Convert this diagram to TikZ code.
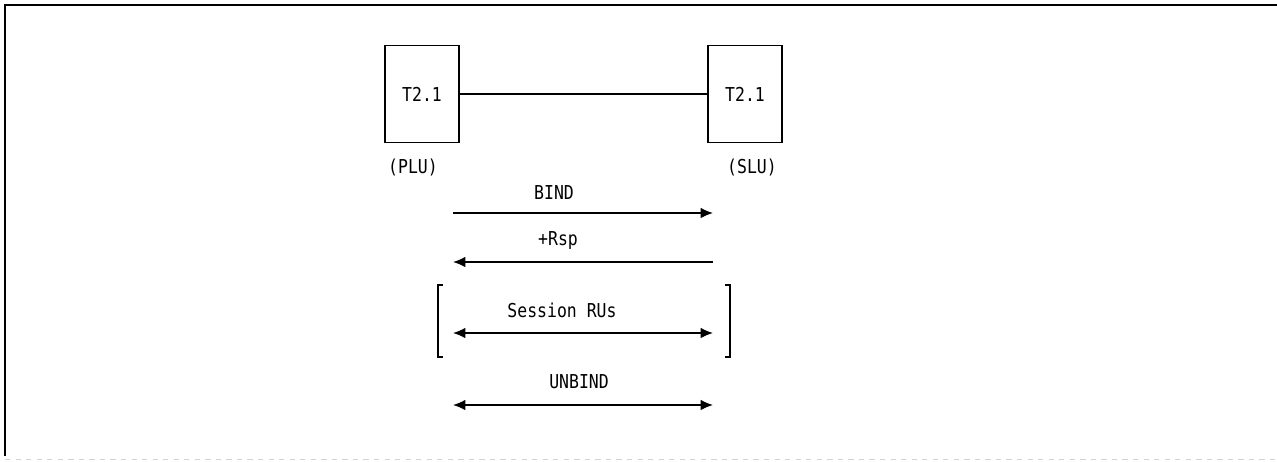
\documentclass[tikz,border=0pt]{standalone}
\usepackage{fontspec}
\newfontfamily\ibmfont[FakeStretch=0.86]{DejaVu Sans Mono}
\usepackage{tikz}
\usetikzlibrary{arrows.meta}

\begin{document}
\begin{tikzpicture}[x=0.02cm,y=-0.02cm,line width=0.75pt,
  every node/.style={font=\ibmfont\fontsize{10.9}{12}\selectfont},
  lubox/.style={draw,minimum width=1.48cm,minimum height=1.94cm,inner sep=0pt},
  msg/.style={-{Latex[length=7pt,width=6pt]}},
  msgboth/.style={{Latex[length=7pt,width=6pt]}-{Latex[length=7pt,width=6pt]}}]
\useasboundingbox (0,0) rectangle (1277,461);
\draw[line width=1.1pt] (1277,5) -- (5,5) -- (5,456);
\draw[gray!35,dashed,line width=0.5pt] (5,459) -- (1277,459);
% the two T2.1 nodes
\node[lubox] (plu) at (422,94) {T2.1};
\node[lubox] (slu) at (745,94) {T2.1};
\draw (plu) -- (slu);
\node (pluName) at (413,167) {(PLU)};
\node (sluName) at (752,167) {(SLU)};
% flows
\coordinate (bindL) at (453,213);  \coordinate (bindR) at (713,213);
\coordinate (rspL) at (453,262);   \coordinate (rspR) at (713,262);
\coordinate (sesL) at (453,333);   \coordinate (sesR) at (713,333);
\coordinate (unbL) at (453,405);   \coordinate (unbR) at (713,405);
\draw[msg] (bindL) -- (bindR);
\draw[msg] (rspR) -- (rspL);
\draw[msgboth] (sesL) -- (sesR);
\draw[msgboth] (unbL) -- (unbR);
\node (bind) at (554,193) {BIND};
\node (rsp) at (558,240) {+Rsp};
\node (ses) at (562,310) {Session RUs};
\node (unbind) at (579,382) {UNBIND};
% bracket round the session RUs
\draw (443,285) -- (438,285) -- (438,357) -- (443,357);
\draw (725,285) -- (730,285) -- (730,357) -- (725,357);
\end{tikzpicture}
\end{document}
